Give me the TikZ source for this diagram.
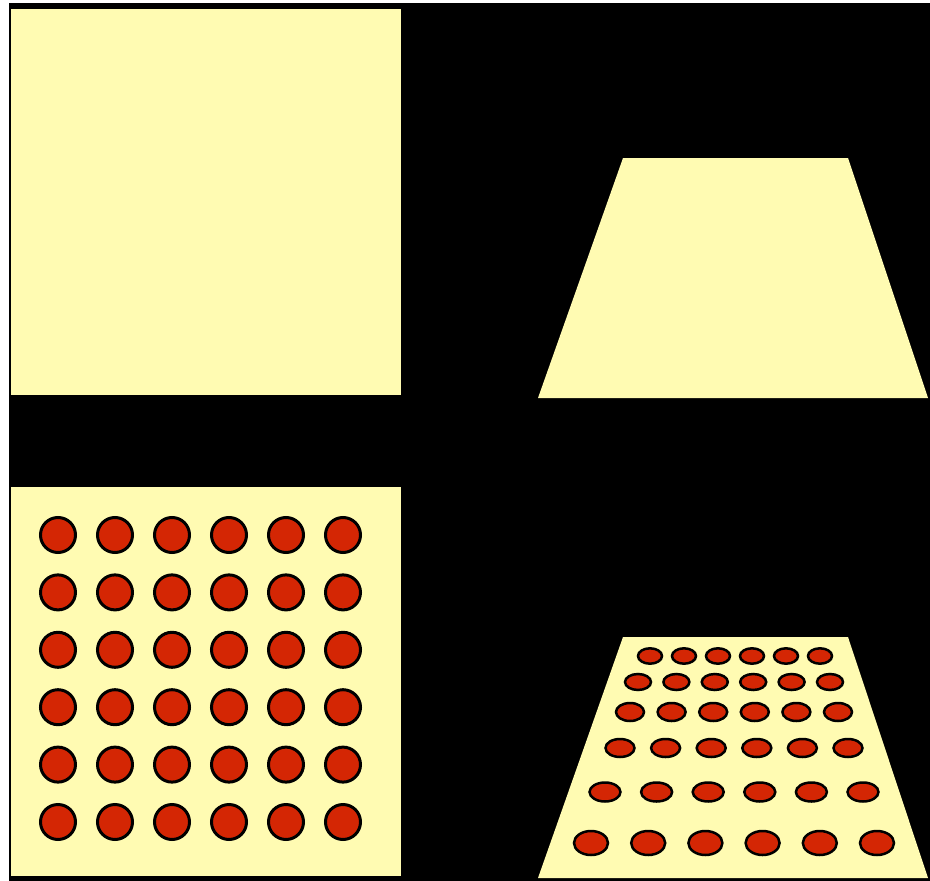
\documentclass[tikz,border=0pt]{standalone}
\usetikzlibrary{calc}
\definecolor{PadClr}{RGB}{255,251,178}
\definecolor{DotClr}{RGB}{212,38,4}

\begin{document}
\begin{tikzpicture}[x=1pt,y=-1pt,
  pad/.style={fill=PadClr},
  dot/.style={fill=DotClr,draw=black,line width=3pt}]
\useasboundingbox (0,0) rectangle (930,881);
\fill[white] (0,0) rectangle (930,881);
\fill[black] (9,3) rectangle (930,881);

% flat squares
\fill[pad] (11,9) rectangle (401,395);
\fill[pad] (11,487) rectangle (401,876);

% tilted squares
\fill[pad] (538,398) -- (623,158) -- (848,158) -- (928,398) -- cycle;
\fill[pad] (538,878) -- (623,637) -- (848,637) -- (928,878) -- cycle;

% dots on the flat one
\foreach \i in {0,...,5}
  \foreach \j in {0,...,5}
    \draw[dot] ({58+57*\i},{535+57.4*\j}) circle (17.5);

% dots on the tilted one, row by row
\foreach \y/\l/\r/\a/\b in {656/650/820/12/7.7,682/638/830/13/8,712/630/838/14/9,
                           748/620/848/14.5/9,792/605/863/15.5/9.5,843/591/877/17/12}
  \foreach \i in {0,...,5}
    \draw[dot,line width=2.5pt] ({\l+(\r-\l)*\i/5},\y) ellipse ({\a} and {\b});

\end{tikzpicture}
\end{document}
